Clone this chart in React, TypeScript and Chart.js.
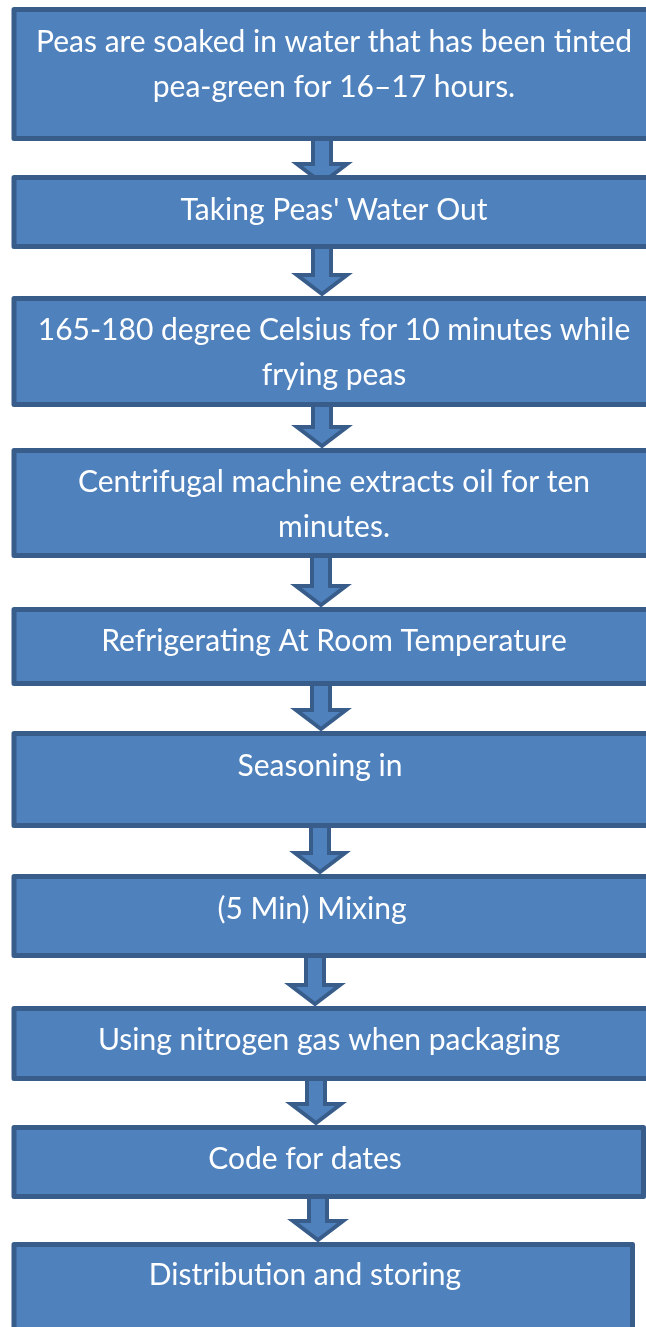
import React, { useEffect, useRef } from "react";
import { Chart, registerables } from "chart.js";

Chart.register(...registerables);

// ---- data (values on a 0..646 x 0..1327 drawing scale) ----
const stepLines: string[][] = [
  ["Peas are soaked in water that has been tinted", "pea-green for 16–17 hours."],
  ["Taking Peas' Water Out"],
  ["165-180 degree Celsius for 10 minutes while", "frying peas"],
  ["Centrifugal machine extracts oil for ten", "minutes."],
  ["Refrigerating At Room Temperature"],
  ["Seasoning in"],
  ["(5 Min) Mixing"],
  ["Using nitrogen gas when packaging"],
  ["Code for dates"],
  ["Distribution and storing"],
];
const boxLeft = [11.5, 11.5, 11.5, 11.5, 11.5, 11.5, 11.5, 11.5, 11.5, 11.5];
const boxRight = [665, 665, 665, 665, 665, 665, 665, 665, 646, 635];
const boxTop = [7, 175, 296, 448, 607, 731, 874, 1006, 1125, 1242];
const boxBottom = [141, 249, 407, 558, 686, 828, 958, 1081, 1199, 1350];
const textCenter = [334, 334, 334, 334, 334, 320, 312, 329, 305, 305];
const textBaseline = [52, 220, 340, 492, 651, 776, 919, 1050, 1169, 1285];

const arrowX = [322, 322, 322, 321, 321, 320, 315, 316, 318];
const arrowStart = [141, 249, 407, 558, 686, 828, 958, 1081, 1199];
const arrowTip = [185, 296, 448, 607, 731, 874, 1006, 1125, 1242];

const FILL = "#4f81bd";
const BORDER = "#385d8a";
const BOX_BW = 5;
const ARROW_BW = 4;
const LINE_GAP = 45;
const FONT = "30px Lato, 'Open Sans', sans-serif";

function boxPoly(i: number) {
  const h = BOX_BW / 2;
  const l = boxLeft[i] + h, r = boxRight[i] - h, t = boxTop[i] + h, b = boxBottom[i] - h;
  return [
    { x: l, y: t }, { x: r, y: t }, { x: r, y: b }, { x: l, y: b }, { x: l, y: t },
  ];
}

function arrowPoly(i: number) {
  const h = ARROW_BW / 2;
  const cx = arrowX[i];
  const hw = 9; // shaft half width (path)
  const HW = 25; // head half width (path)
  const tip = arrowTip[i] - h;
  const headTop = arrowTip[i] - 23 + h;
  const start = arrowStart[i] - 6;
  return [
    { x: cx - hw, y: start },
    { x: cx - hw, y: headTop },
    { x: cx - HW, y: headTop },
    { x: cx, y: tip },
    { x: cx + HW, y: headTop },
    { x: cx + hw, y: headTop },
    { x: cx + hw, y: start },
    { x: cx - hw, y: start },
  ];
}

const labelPlugin = {
  id: "stepLabels",
  afterDatasetsDraw(chart: any) {
    const { ctx, scales } = chart;
    ctx.save();
    ctx.fillStyle = "#ffffff";
    ctx.font = FONT;
    ctx.textAlign = "center";
    ctx.textBaseline = "alphabetic";
    stepLines.forEach((lines, i) => {
      lines.forEach((line, j) => {
        const x = scales.x.getPixelForValue(textCenter[i]);
        const y = scales.y.getPixelForValue(textBaseline[i] + j * LINE_GAP);
        ctx.fillText(line, x, y);
      });
    });
    ctx.restore();
  },
};

export default function App() {
  const ref = useRef<HTMLCanvasElement | null>(null);
  useEffect(() => {
    document.body.style.margin = "0";
    if (!ref.current) return;
    const boxSets = stepLines.map((_, i) => ({
      label: "box" + i,
      data: boxPoly(i),
      backgroundColor: FILL,
      borderColor: BORDER,
      borderWidth: BOX_BW,
      borderJoinStyle: "round" as const,
      borderCapStyle: "round" as const,
      fill: "shape",
      pointRadius: 0,
      tension: 0,
    }));
    const arrowSets = arrowX.map((_, i) => ({
      label: "arrow" + i,
      data: arrowPoly(i),
      backgroundColor: FILL,
      borderColor: BORDER,
      borderWidth: ARROW_BW,
      borderJoinStyle: "miter" as const,
      borderCapStyle: "square" as const,
      fill: "shape",
      pointRadius: 0,
      tension: 0,
    }));
    const chart = new Chart(ref.current, {
      type: "line",
      data: { datasets: [...boxSets, ...arrowSets] as any },
      options: {
        animation: false,
        responsive: false,
        devicePixelRatio: 1,
        layout: { padding: 0 },
        events: [],
        plugins: { legend: { display: false }, tooltip: { enabled: false } },
        scales: {
          x: { type: "linear", min: 0, max: 646, display: false },
          y: { type: "linear", min: 0, max: 1327, reverse: true, display: false },
        },
      },
      plugins: [labelPlugin],
    });
    return () => chart.destroy();
  }, []);
  return (
    <div style={{ width: 646, height: 1327, background: "#ffffff" }}>
      <canvas ref={ref} width={646} height={1327} style={{ display: "block" }} />
    </div>
  );
}
